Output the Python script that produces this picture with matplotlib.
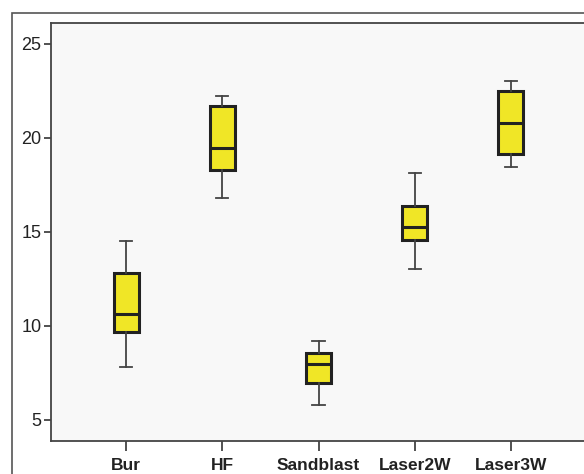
import matplotlib.pyplot as plt
from matplotlib.patches import Rectangle

groups = ["Bur", "HF", "Sandblast", "Laser2W", "Laser3W"]
whisker_low = [7.82, 16.82, 5.81, 13.02, 18.42]
q1 = [9.70, 18.30, 6.98, 14.57, 19.13]
median = [10.65, 19.48, 7.96, 15.27, 20.78]
q3 = [12.80, 21.69, 8.58, 16.38, 22.46]
whisker_high = [14.50, 22.22, 9.19, 18.10, 23.00]

plt.rcParams["font.family"] = ["Liberation Sans", "DejaVu Sans"]

fig = plt.figure(figsize=(5.84, 4.74), dpi=100)
fig.patch.set_facecolor("white")

# outer chart frame (SPSS style), runs off the right/bottom edges
fig.patches.append(Rectangle((12 / 584, -0.1), 1.2, 1 - 13 / 474 + 0.1,
                             transform=fig.transFigure, fill=False,
                             edgecolor="#555555", linewidth=1.2))

ax = fig.add_axes([51 / 584, 1 - 441 / 474, 535 / 584, 418 / 474])
ax.set_facecolor("#f8f8f8")

stats = []
for i, g in enumerate(groups):
    stats.append({
        "label": g,
        "whislo": whisker_low[i],
        "q1": q1[i],
        "med": median[i],
        "q3": q3[i],
        "whishi": whisker_high[i],
        "fliers": [],
    })

ax.bxp(stats, positions=range(1, 6), widths=0.26, patch_artist=True,
       showfliers=False,
       boxprops=dict(facecolor="#f0e626", edgecolor="#222222", linewidth=2.2),
       medianprops=dict(color="#222222", linewidth=2.2),
       whiskerprops=dict(color="#444444", linewidth=1.3),
       capprops=dict(color="#444444", linewidth=1.3),
       capwidths=0.125)

ax.set_xlim(0.22, 5.78)
ax.set_ylim(3.88, 26.1)
ax.set_yticks([5, 10, 15, 20, 25])
ax.set_xticks(range(1, 6))
ax.set_xticklabels(groups, fontsize=12.5, fontweight="bold", color="#222222")
ax.tick_params(axis="y", labelsize=13, length=5, width=1.2, color="#333333",
               pad=2, labelcolor="#222222")
ax.tick_params(axis="x", length=7, width=1.2, color="#333333", pad=5)

for s in ax.spines.values():
    s.set_color("#444444")
    s.set_linewidth(1.3)

fig.savefig("out.png", dpi=100)
